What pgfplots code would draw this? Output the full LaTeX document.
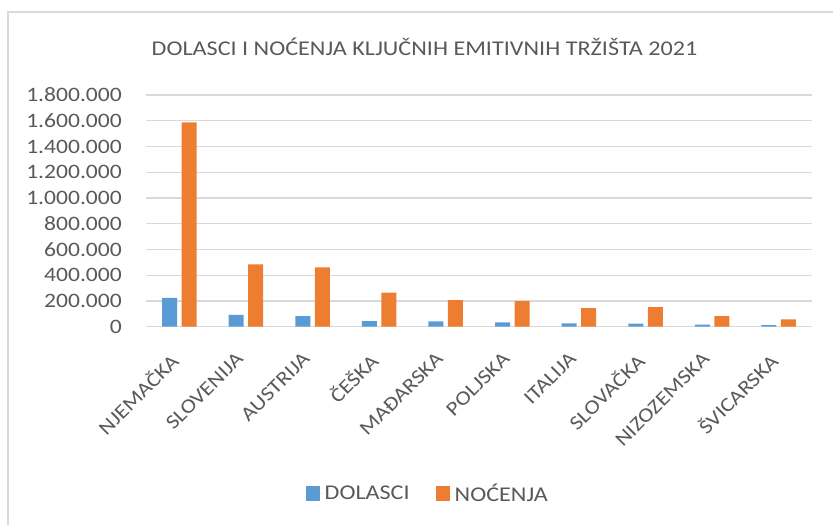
\documentclass[border=0pt]{standalone}
\usepackage{fontspec}
\setmainfont{Carlito}[FakeStretch=1.15]
\usepackage{pgfplots}
\pgfplotsset{compat=1.18}
\definecolor{cblue}{HTML}{5B9BD5}
\definecolor{corange}{HTML}{ED7D31}
\definecolor{cgrid}{HTML}{D9D9D9}
\definecolor{ctext}{HTML}{595959}
\begin{document}
\begin{tikzpicture}
\useasboundingbox (0,0) rectangle (833bp,525bp);
\draw[cgrid, line width=1.2bp] (8bp,0) -- (8bp,513bp) -- (833bp,513bp);
\node[text=ctext, font=\fontsize{21bp}{24bp}\selectfont] at (424.5bp,478bp) {DOLASCI I NOĆENJA KLJUČNIH EMITIVNIH TRŽIŠTA 2021};
\begin{axis}[
  at={(146bp,198.3bp)}, anchor=south west,
  scale only axis, width=666bp, height=231.7bp,
  ymin=0, ymax=1800000, ytick distance=200000,
  xmin=-0.5, xmax=9.5,
  xtick={0,...,9},
  xticklabels={NJEMAČKA,SLOVENIJA,AUSTRIJA,ČEŠKA,MAĐARSKA,POLJSKA,ITALIJA,SLOVAČKA,NIZOZEMSKA,ŠVICARSKA},
  axis line style={draw=none},
  major tick style={draw=none},
  ymajorgrids, grid style={cgrid, line width=1.2bp},
  scaled y ticks=false,
  /pgf/number format/.cd, fixed, 1000 sep={.}, assume math mode=true,
  /pgfplots/.cd,
  yticklabel style={text=ctext, font=\fontsize{20.5bp}{22bp}\selectfont, anchor=east, inner sep=0pt, xshift=-24bp},
  xticklabel style={text=ctext, font=\fontsize{20bp}{22bp}\selectfont, rotate=45, anchor=north east, inner sep=0pt, xshift=-21.7bp, yshift=-6.4bp},
  ybar=4.5bp, bar width=15bp,
  legend style={at={(0.423,-0.718)}, anchor=center, draw=none, legend columns=2,
    font=\fontsize{21bp}{24bp}\selectfont, text=ctext,
    /tikz/every even column/.append style={column sep=24bp}},
  legend image code/.code={\fill[#1,draw=none] (0bp,-7.5bp) rectangle (14bp,7.5bp); \path (0bp,0bp) -- (17bp,0bp);},
  clip=false,
]
\addplot[fill=cblue, draw=none] coordinates {(0,223000) (1,91000) (2,83000) (3,44000) (4,41000) (5,34000) (6,26000) (7,23000) (8,15500) (9,13000)};
\addplot[fill=corange, draw=none] coordinates {(0,1588000) (1,484000) (2,461000) (3,264000) (4,207000) (5,199000) (6,145000) (7,153000) (8,83000) (9,57000)};
\legend{DOLASCI,NOĆENJA}
\end{axis}
\end{tikzpicture}
\end{document}
